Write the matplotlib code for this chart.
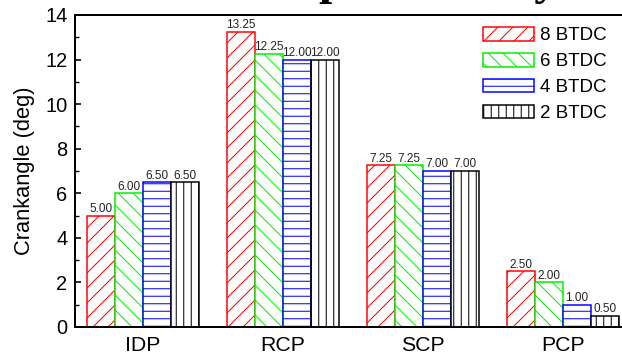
import matplotlib
matplotlib.use("Agg")
import matplotlib.pyplot as plt
import numpy as np

plt.rcParams['font.family'] = ['Liberation Sans', 'DejaVu Sans']
plt.rcParams['hatch.linewidth'] = 0.8

phases = ["IDP", "RCP", "SCP", "PCP"]
timings = ["8 BTDC", "6 BTDC", "4 BTDC", "2 BTDC"]
durations = {
    "8 BTDC": [5.00, 13.25, 7.25, 2.50],
    "6 BTDC": [6.00, 12.25, 7.25, 2.00],
    "4 BTDC": [6.50, 12.00, 7.00, 1.00],
    "2 BTDC": [6.50, 12.00, 7.00, 0.50],
}
edge_colors = ["#FF0000", "#00EE00", "#0000FF", "#000000"]
hatches = ["//", "\\\\", "--", "||"]

DPI = 90
fig = plt.figure(figsize=(622 / DPI, 360 / DPI), dpi=DPI)
ax = fig.add_axes([75 / 622, 33 / 360, 556 / 622, 312 / 360])

x = np.arange(len(phases))
width = 0.2
for i, t in enumerate(timings):
    offs = (i - 1.5) * width
    bars = ax.bar(x + offs, durations[t], width, facecolor="white",
                  edgecolor=edge_colors[i], hatch=hatches[i],
                  linewidth=1.2, label=t)
    ax.bar_label(bars, fmt="%.2f", padding=0.5, fontsize=9.4, color="#222222")

ax.set_xlim(-0.486, 3.486)
ax.set_ylim(0, 14)
ax.set_xticks(x)
ax.set_xticklabels(phases, fontsize=17)
ax.set_yticks(np.arange(0, 15, 2))
ax.set_yticks(np.arange(0, 15, 1), minor=True)
ax.tick_params(axis='y', which='major', direction='in', length=5, width=1.3,
               labelsize=16, pad=6)
ax.tick_params(axis='y', which='minor', direction='in', length=3, width=1.1)
ax.tick_params(axis='x', length=0, pad=7)
ax.set_ylabel("Crankangle (deg)", fontsize=17.5, labelpad=8)
for s in ax.spines.values():
    s.set_linewidth(1.6)

ax.legend(loc='upper left', bbox_to_anchor=(483 / 622, 1 - 27 / 360),
          bbox_transform=fig.transFigure, frameon=False, fontsize=15,
          handlelength=2.72, handleheight=0.75, labelspacing=0.45,
          handletextpad=0.3, borderpad=0, borderaxespad=0)

fig.text(59 / 622, 1 + 6 / 360, "Combustion phase analysis",
         fontsize=38, fontweight='bold', family='Liberation Serif',
         ha='left', va='baseline')

fig.savefig("out.png", dpi=DPI)
